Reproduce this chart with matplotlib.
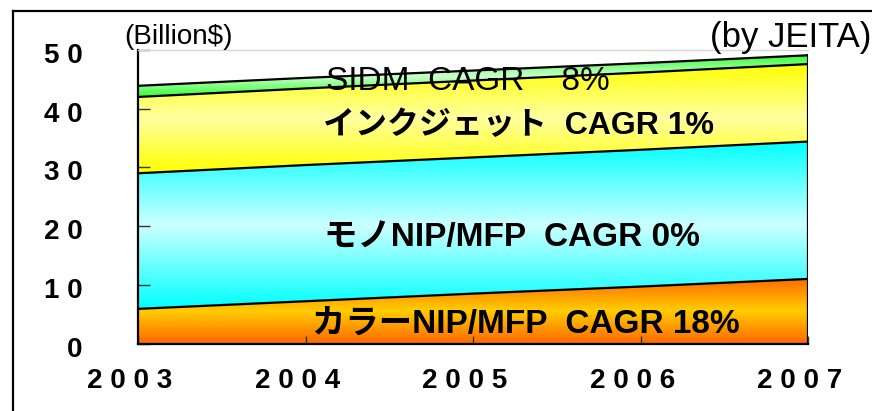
import numpy as np
import matplotlib.pyplot as plt
import matplotlib.transforms as mtransforms
from matplotlib.colors import LinearSegmentedColormap
from matplotlib.lines import Line2D

years = ['2003', '2004', '2005', '2006', '2007']
color_nip = [5.9, 7.2, 8.5, 9.7, 11.0]
mono_nip = [23.1, 23.2, 23.2, 23.3, 23.4]
inkjet = [13.0, 13.05, 13.1, 13.15, 13.2]
sidm = [1.9, 1.8, 1.7, 1.6, 1.5]

# (edge colour, centre colour) for each band's gradient
band_colors = [('#ff6a00', '#ffcc00'),
               ('#00ffff', '#ccffff'),
               ('#ffff00', '#ffffa0'),
               ('#33ff33', '#ccffcc')]

JP = ['Liberation Sans', 'Noto Sans CJK JP']

W, H = 872, 411
fig = plt.figure(figsize=(W / 100, H / 100), dpi=100)
ax = fig.add_axes([138 / W, 1 - 343.5 / H, 670 / W, 293.5 / H])

x = np.arange(len(years))
bottom = np.zeros(len(years))
for vals, (edge, centre) in zip([color_nip, mono_nip, inkjet, sidm], band_colors):
    top = bottom + np.array(vals)
    poly = ax.fill_between(x, bottom, top, facecolor='none', edgecolor='none')
    lo, hi = bottom.min(), top.max()
    t = np.abs(np.linspace(-1, 1, 256))[:, None]
    cmap = LinearSegmentedColormap.from_list('g', [centre, edge])
    im = ax.imshow(t, cmap=cmap, extent=[x[0], x[-1], lo, hi], origin='lower',
                   aspect='auto', interpolation='bilinear', zorder=1)
    im.set_clip_path(poly.get_paths()[0], transform=ax.transData)
    ax.plot(x, top, color='black', lw=1.6, zorder=3, solid_capstyle='butt')
    bottom = top
ax.plot([x[-1], x[-1]], [0, bottom[-1]], color='black', lw=1.6, zorder=3)

ax.set_xlim(x[0], x[-1])
ax.set_ylim(0, 50)

ax.set_xticks(x)
ax.set_xticklabels([' '.join(y) for y in years])
ax.set_yticks(range(0, 51, 10))
ax.set_yticklabels([' '.join(str(v)) for v in range(0, 51, 10)])
ax.tick_params(axis='y', direction='in', length=8.5, width=1, color='#333333', pad=40)
ax.tick_params(axis='x', direction='in', length=6, width=1, color='#333333', pad=17.5)
for lab in ax.get_xticklabels() + ax.get_yticklabels():
    lab.set_fontfamily('Liberation Sans')
    lab.set_fontweight('bold')
    lab.set_fontsize(20)
dx = mtransforms.ScaledTranslation(-8 / 100, 0, fig.dpi_scale_trans)
dy = mtransforms.ScaledTranslation(0, -3 / 100, fig.dpi_scale_trans)
for lab in ax.get_xticklabels():
    lab.set_transform(lab.get_transform() + dx)
for lab in ax.get_yticklabels():
    lab.set_transform(lab.get_transform() + dy)

for s in ['left', 'bottom']:
    ax.spines[s].set_linewidth(1.6)
ax.spines['top'].set_color('#d8d8d8')
ax.spines['top'].set_linewidth(1)
ax.spines['right'].set_visible(False)

# outer frame
fig.add_artist(Line2D([13 / W, 13 / W], [0, 1 - 11 / H], color='black', lw=1.6))
fig.add_artist(Line2D([13 / W, 1], [1 - 11 / H, 1 - 11 / H], color='black', lw=1.6))

fig.text(178 / W, 1 - 37 / H, '(Billion$)', family='Liberation Sans', fontsize=20,
         ha='center', va='center')
fig.text(871 / W, 1 - 37 / H, '(by JEITA)', family='Liberation Sans', fontsize=25,
         ha='right', va='center')

fig.text(468 / W, 1 - 82 / H, 'SIDM  CAGR    8%', family='Liberation Sans',
         fontsize=24, ha='center', va='center', zorder=5)
fig.text(518 / W, 1 - 126 / H, 'インクジェット  CAGR 1%', family=JP, fontweight='bold',
         fontsize=23, ha='center', va='center', zorder=5)
fig.text(512 / W, 1 - 237 / H, 'モノNIP/MFP  CAGR 0%', family=JP, fontweight='bold',
         fontsize=24, ha='center', va='center', zorder=5)
fig.text(526 / W, 1 - 325 / H, 'カラーNIP/MFP  CAGR 18%', family=JP, fontweight='bold',
         fontsize=24, ha='center', va='center', zorder=5)

fig.savefig('out.png', dpi=100)
